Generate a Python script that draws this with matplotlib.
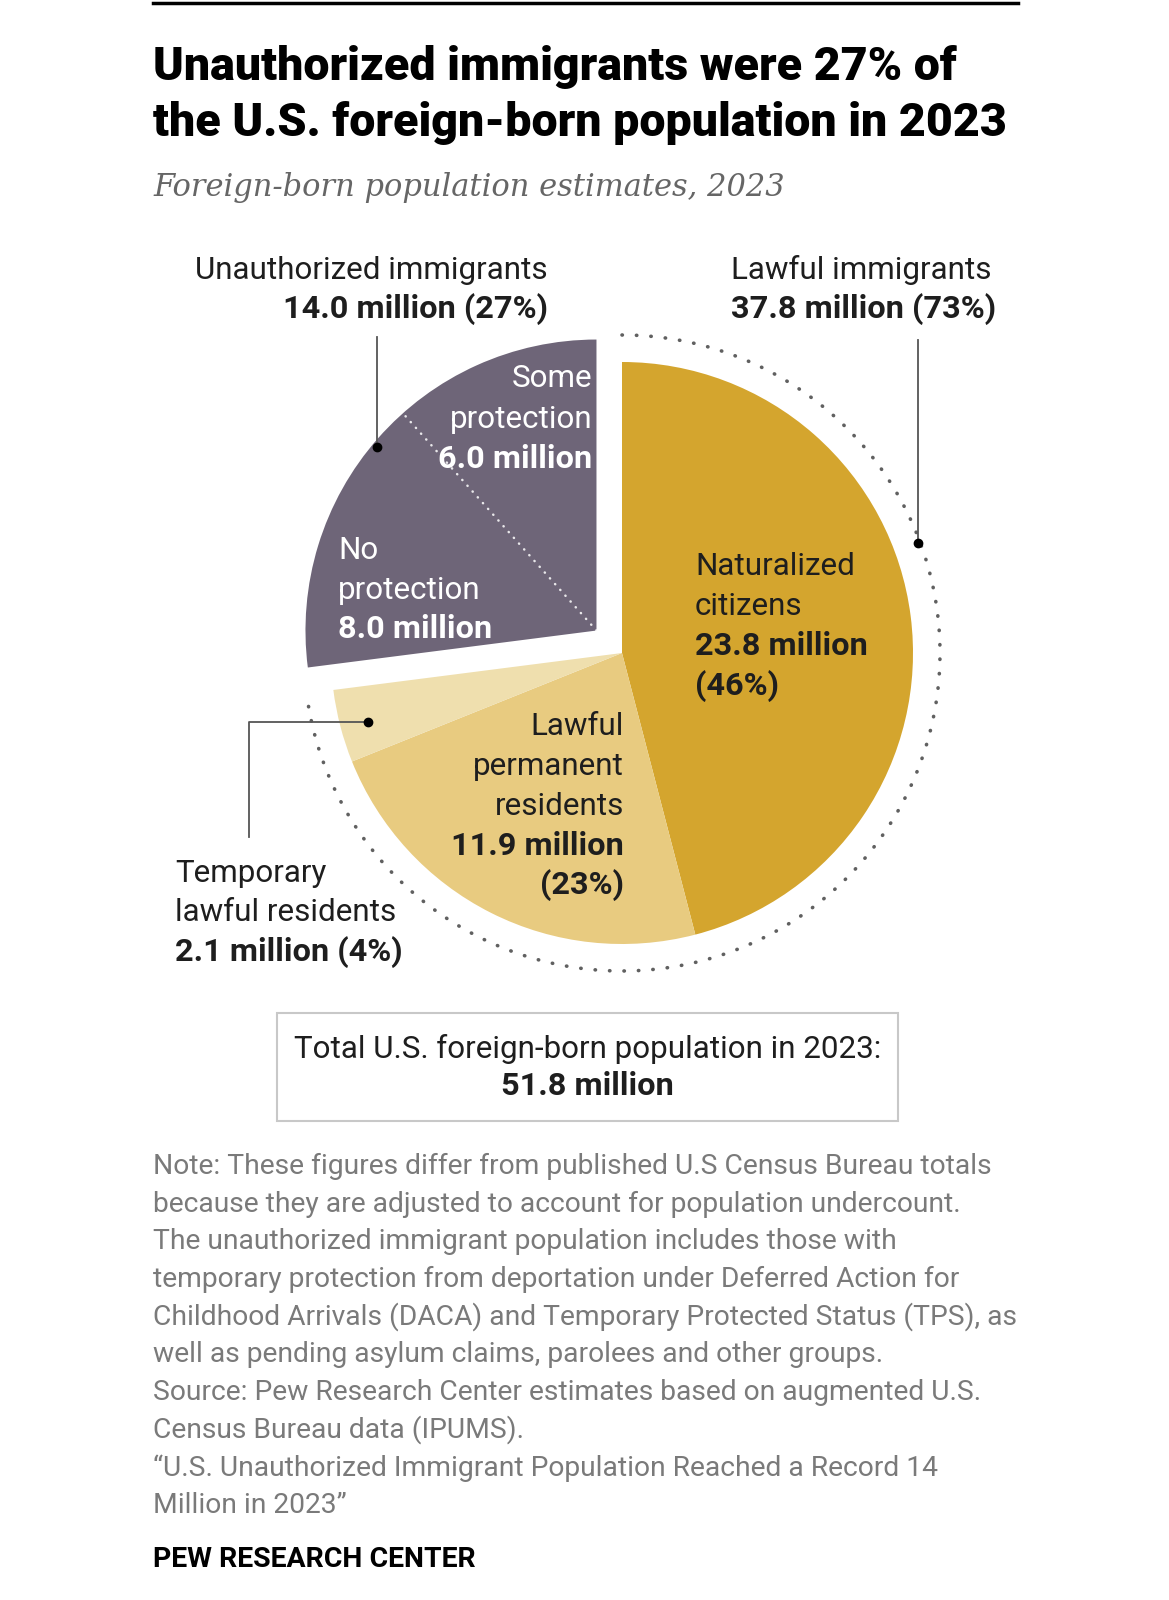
import numpy as np
import matplotlib.pyplot as plt
from matplotlib.patches import Rectangle

# values (millions)
categories = ["Naturalized citizens", "Lawful permanent residents",
              "Temporary lawful residents", "Unauthorized immigrants"]
values = [23.8, 11.9, 2.1, 14.0]
shares = [46, 23, 4, 27]
unauth_split = [8.0, 6.0]   # no protection, some protection
lawful_total = 37.8
lawful_share = 73
total = 51.8
colors = ["#D4A52E", "#E8CB80", "#EFDFAE", "#6E6578"]

note_lines = [
    "Note: These figures differ from published U.S Census Bureau totals",
    "because they are adjusted to account for population undercount.",
    "The unauthorized immigrant population includes those with",
    "temporary protection from deportation under Deferred Action for",
    "Childhood Arrivals (DACA) and Temporary Protected Status (TPS), as",
    "well as pending asylum claims, parolees and other groups.",
    "Source: Pew Research Center estimates based on augmented U.S.",
    "Census Bureau data (IPUMS).",
    "\u201cU.S. Unauthorized Immigrant Population Reached a Record 14",
    "Million in 2023\u201d",
]

W, H = 1169, 1600
FONT = ["Roboto", "DejaVu Sans"]
DARK = "#1e1e1e"
REG, BOLD = 22.6, 23.4

fig = plt.figure(figsize=(W / 100, H / 100), dpi=100)
ax = fig.add_axes([0, 0, 1, 1])


def Y(y):
    # pixel row (from top) -> data y
    return H - y


# pie
cx, cy, R = 622, Y(653), 291
wedges, _ = ax.pie(values, colors=colors, startangle=90, counterclock=False,
                   explode=[0, 0, 0, 34], radius=R, center=(cx, cy),
                   wedgeprops=dict(linewidth=0))
ax.set_xlim(0, W)
ax.set_ylim(0, H)
ax.set_aspect("equal")
ax.axis("off")

# dotted split inside the unauthorized wedge
ux, uy = wedges[3].center
a = np.deg2rad(90 - 360 * (sum(values[:3]) + unauth_split[0]) / total)
ax.plot([ux, ux + (R - 4) * np.cos(a)], [uy, uy + (R - 4) * np.sin(a)],
        color="white", lw=1.8, linestyle=(0, (0.1, 3.0)),
        dash_capstyle="round", alpha=0.85)

# dotted arc around the lawful part
t = np.deg2rad(np.linspace(90, 90 - 360 * lawful_total / total, 400))
ax.plot(cx + 318 * np.cos(t), cy + 318 * np.sin(t), color="#606060",
        lw=2.6, linestyle=(0, (0.1, 3.9)), dash_capstyle="round")

# leader lines
ax.plot([377, 377], [Y(337), Y(447)], color="#555555", lw=1.3)
ax.plot([377], [Y(447)], "o", color="black", ms=6)
ax.plot([918, 918], [Y(340), Y(543)], color="#555555", lw=1.3)
ax.plot([918], [Y(543)], "o", color="black", ms=6)
ax.plot([249, 249, 368], [Y(837), Y(722), Y(722)], color="#555555", lw=1.3)
ax.plot([368], [Y(722)], "o", color="black", ms=6)


def lines(x, ys, items, ha="left", color=DARK):
    for yy, (txt, bold) in zip(ys, items):
        ax.text(x, Y(yy), txt, ha=ha, va="baseline", color=color,
                fontsize=BOLD if bold else REG,
                fontweight="bold" if bold else "normal", family=FONT)


lines(548, [279, 318], [("Unauthorized immigrants", False),
                        (f"{values[3]:.1f} million ({shares[3]}%)", True)], ha="right")
lines(731, [279, 318], [("Lawful immigrants", False),
                        (f"{lawful_total:.1f} million ({lawful_share}%)", True)])
lines(592, [387, 428, 468], [("Some", False), ("protection", False),
                             (f"{unauth_split[1]:.1f} million", True)],
      ha="right", color="white")
lines(338, [559, 599, 638], [("No", False), ("protection", False),
                             (f"{unauth_split[0]:.1f} million", True)],
      color="white")
lines(695, [575, 615, 655, 695], [("Naturalized", False), ("citizens", False),
                                  (f"{values[0]:.1f} million", True),
                                  (f"({shares[0]}%)", True)])
lines(624, [735, 775, 815, 855, 894], [("Lawful", False), ("permanent", False),
                                       ("residents", False),
                                       (f"{values[1]:.1f} million", True),
                                       (f"({shares[1]}%)", True)], ha="right")
lines(175, [882, 921, 961], [("Temporary", False), ("lawful residents", False),
                             (f"{values[2]:.1f} million ({shares[2]}%)", True)])

# total box
ax.add_patch(Rectangle((277, Y(1121)), 621, 108, fill=False,
                       edgecolor="#c8c8c8", lw=1.5))
lines(587.5, [1058, 1095], [("Total U.S. foreign-born population in 2023:", False),
                            (f"{total:.1f} million", True)], ha="center")

# header
ax.plot([153, 1018], [Y(3), Y(3)], color="black", lw=2.5)
ax.text(153, Y(80), "Unauthorized immigrants were 27% of", fontsize=33.5,
        fontweight=900, family=FONT, color="black", va="baseline")
ax.text(153, Y(136), "the U.S. foreign-born population in 2023", fontsize=33.5,
        fontweight=900, family=FONT, color="black", va="baseline")
ax.text(153, Y(196), "Foreign-born population estimates, 2023", fontsize=22,
        style="italic", family=["DejaVu Serif"], color="#666666", va="baseline")

# notes
for i, ln in enumerate(note_lines):
    ax.text(153, Y(1174 + 37.7 * i), ln, fontsize=20.3, family=FONT,
            color="#7a7a7a", va="baseline")
ax.text(153, Y(1567), "PEW RESEARCH CENTER", fontsize=20.4, fontweight="bold",
        family=FONT, color="black", va="baseline")

fig.savefig("out.png", dpi=100)
